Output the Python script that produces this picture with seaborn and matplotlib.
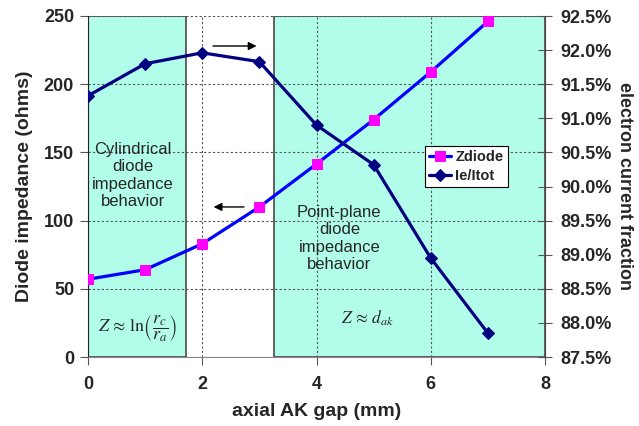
import numpy as np
import pandas as pd
import matplotlib
matplotlib.use('Agg')
import matplotlib.pyplot as plt
import seaborn as sns
from matplotlib.patches import Rectangle
from matplotlib.ticker import PercentFormatter

# data
gap_mm = [0, 1, 2, 3, 4, 5, 6, 7]
zdiode = [57, 64, 83, 110, 141.5, 174, 209, 246]
ie_itot = [0.9133, 0.9180, 0.9196, 0.9183, 0.9090, 0.9032, 0.8895, 0.8785]

df = pd.DataFrame({'gap': gap_mm, 'Zdiode': zdiode, 'Ie/Itot': ie_itot})

sns.set_style('white')
plt.rcParams['font.family'] = ['Liberation Sans', 'DejaVu Sans']
plt.rcParams['mathtext.fontset'] = 'stix'

box_fc = '#b2fde9'
box_ec = '#555555'

fig, ax = plt.subplots(figsize=(6.39, 4.26), dpi=100)
fig.subplots_adjust(left=88/639, right=545/639, top=1-16/426, bottom=1-357/426)

ax.set_xlim(0, 8)
ax.set_ylim(0, 250)

# shaded regions
ax.add_patch(Rectangle((0, 0), 1.72, 250, fc=box_fc, ec=box_ec, lw=1.3, zorder=0.2))
ax.add_patch(Rectangle((3.26, 0), 4.74, 250, fc=box_fc, ec=box_ec, lw=1.3, zorder=0.2))

ax.set_xticks([0, 2, 4, 6, 8])
ax.set_yticks([0, 50, 100, 150, 200, 250])
ax.grid(True, ls=(0, (2, 2)), color='#555555', lw=0.8)

sns.lineplot(data=df, x='gap', y='Zdiode', ax=ax, color='#0000ff', lw=2.3,
             marker='s', markersize=7, markerfacecolor='#ff00ff',
             markeredgecolor='#ff00ff', label='Zdiode', legend=False, zorder=3)

ax2 = ax.twinx()
sns.lineplot(data=df, x='gap', y='Ie/Itot', ax=ax2, color='#000080', lw=2.3,
             marker='D', markersize=6, markerfacecolor='#000080',
             markeredgecolor='#000080', label='Ie/Itot', legend=False, zorder=3)
ax2.set_ylim(0.875, 0.925)
ax2.set_yticks(np.arange(0.875, 0.9251, 0.005))
ax2.yaxis.set_major_formatter(PercentFormatter(xmax=1, decimals=1))
ax2.grid(False)

# spines
ax.spines['top'].set_visible(False)
ax2.spines['top'].set_visible(False)
ax.spines['left'].set_color('#222222')
ax.spines['bottom'].set_color('#888888')
ax2.spines['right'].set_color('#444444')
ax2.spines['left'].set_visible(False)
ax2.spines['bottom'].set_visible(False)
ax.spines['right'].set_visible(False)

ax.tick_params(axis='x', direction='out', length=6, color='#555555', labelsize=13, pad=8, bottom=True)
ax.tick_params(axis='y', direction='out', length=6, color='#555555', labelsize=13, pad=4, left=True)
ax2.tick_params(axis='y', direction='inout', length=10, color='#555555', labelsize=13, pad=6, right=True)
for lbl in ax.get_xticklabels() + ax.get_yticklabels() + ax2.get_yticklabels():
    lbl.set_fontweight('bold')

ax.set_xlabel('axial AK gap (mm)', fontsize=14, fontweight='bold', labelpad=7)
ax.set_ylabel('Diode impedance (ohms)', fontsize=14, fontweight='bold', labelpad=8)
ax2.set_ylabel('electron current fraction', fontsize=13, fontweight='bold',
               rotation=270, va='bottom', labelpad=3)

# annotations
ax.annotate('', xy=(3.0, 228), xytext=(2.14, 228),
            arrowprops=dict(arrowstyle='-|>', color='black', lw=1, mutation_scale=12))
ax.annotate('', xy=(2.15, 110), xytext=(2.78, 110),
            arrowprops=dict(arrowstyle='-|>', color='black', lw=1, mutation_scale=12))

ax.text(0.79, 133, 'Cylindrical\ndiode\nimpedance\nbehavior', ha='center', va='center',
        fontsize=12, linespacing=1.2)
ax.text(4.40, 87, 'Point-plane\ndiode\nimpedance\nbehavior', ha='center', va='center',
        fontsize=12, linespacing=1.2)
ax.text(0.87, 21, r'$Z\,\approx\,\ln\!\left(\dfrac{r_c}{r_a}\right)$', ha='center', va='center',
        fontsize=13)
ax.text(4.89, 28.6, r'$Z\,\approx\,d_{ak}$', ha='center', va='center', fontsize=12.5)

leg = ax2.legend(handles=[ax.lines[0], ax2.lines[0]], labels=['Zdiode', 'Ie/Itot'],
                 loc='upper right', bbox_to_anchor=(0.919, 0.619), frameon=True,
                 fancybox=False, edgecolor='black', framealpha=1, facecolor='white',
                 prop={'size': 10.5, 'weight': 'bold'}, handlelength=1.5,
                 borderpad=0.3, labelspacing=0.3, handletextpad=0.3, borderaxespad=0)
leg.get_frame().set_linewidth(0.8)

fig.savefig('out.png', dpi=100)
